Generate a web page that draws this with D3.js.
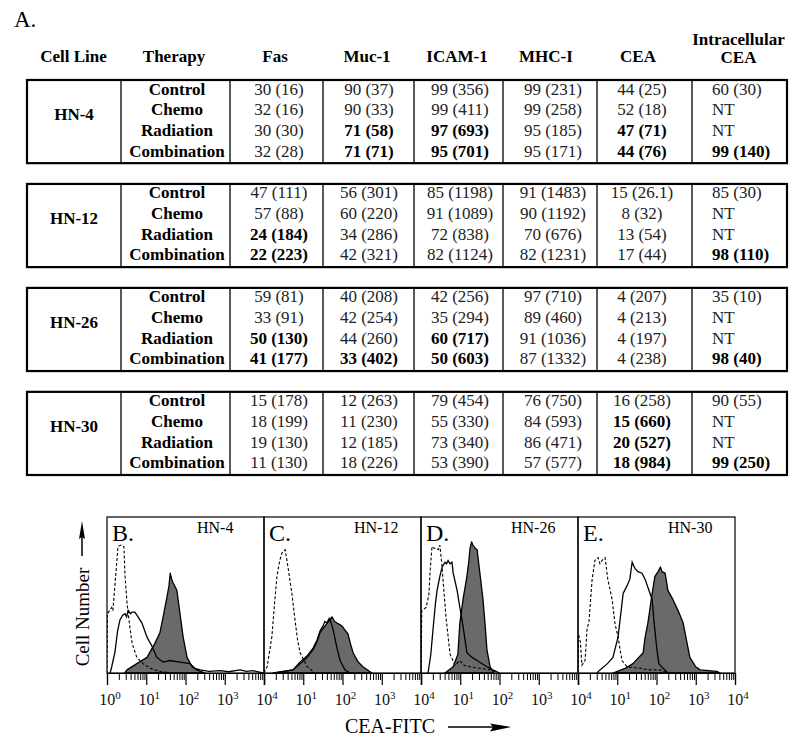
<!DOCTYPE html>
<html>
<head>
<meta charset="utf-8">
<script src="https://cdn.jsdelivr.net/npm/d3@7"></script>
<style>
html,body{margin:0;padding:0;background:#fff;}
svg{display:block;}
text{font-family:"Liberation Serif","Times New Roman",serif;}
</style>
</head>
<body>
<svg id="chart" width="800" height="748"></svg>
<script>
// ---------------- TABLE DATA ----------------
const cellLines = ["HN-4", "HN-12", "HN-26", "HN-30"];
const therapies = ["Control", "Chemo", "Radiation", "Combination"];
const headers = ["Cell Line", "Therapy", "Fas", "Muc-1", "ICAM-1", "MHC-I", "CEA", "Intracellular CEA"];

const fas   = ["30 (16)","32 (16)","30 (30)","32 (28)", "47 (111)","57 (88)","24 (184)","22 (223)", "59 (81)","33 (91)","50 (130)","41 (177)", "15 (178)","18 (199)","19 (130)","11 (130)"];
const muc1  = ["90 (37)","90 (33)","71 (58)","71 (71)", "56 (301)","60 (220)","34 (286)","42 (321)", "40 (208)","42 (254)","44 (260)","33 (402)", "12 (263)","11 (230)","12 (185)","18 (226)"];
const icam1 = ["99 (356)","99 (411)","97 (693)","95 (701)", "85 (1198)","91 (1089)","72 (838)","82 (1124)", "42 (256)","35 (294)","60 (717)","50 (603)", "79 (454)","55 (330)","73 (340)","53 (390)"];
const mhc1  = ["99 (231)","99 (258)","95 (185)","95 (171)", "91 (1483)","90 (1192)","70 (676)","82 (1231)", "97 (710)","89 (460)","91 (1036)","87 (1332)", "76 (750)","84 (593)","86 (471)","57 (577)"];
const cea   = ["44 (25)","52 (18)","47 (71)","44 (76)", "15 (26.1)","8 (32)","13 (54)","17 (44)", "4 (207)","4 (213)","4 (197)","4 (238)", "16 (258)","15 (660)","20 (527)","18 (984)"];
const intraCea = ["60 (30)","NT","NT","99 (140)", "85 (30)","NT","NT","98 (110)", "35 (10)","NT","NT","98 (40)", "90 (55)","NT","NT","99 (250)"];

const boldFas   = [0,0,0,0, 0,0,1,1, 0,0,1,1, 0,0,0,0];
const boldMuc1  = [0,0,1,1, 0,0,0,0, 0,0,0,1, 0,0,0,0];
const boldIcam1 = [0,0,1,1, 0,0,0,0, 0,0,1,1, 0,0,0,0];
const boldMhc1  = [0,0,0,0, 0,0,0,0, 0,0,0,0, 0,0,0,0];
const boldCea   = [0,0,1,1, 0,0,0,0, 0,0,0,0, 0,1,1,1];
const boldIntra = [0,0,0,1, 0,0,0,1, 0,0,0,1, 0,0,0,1];

// ---------------- HISTOGRAM DATA ([log10 channel, % of max]) ----------------
const panelLabels = ["B.", "C.", "D.", "E."];
const panelLines = ["HN-4", "HN-12", "HN-26", "HN-30"];
const axisTickLabels = ["0", "1", "2", "3", "4"];

const hn4Iso   = [[0,0],[0.01,38],[0.12,42],[0.15,40],[0.22,62],[0.28,81],[0.36,82],[0.43,81],[0.46,62],[0.51,45],[0.58,30],[0.64,19],[0.76,10],[0.92,6],[1.1,3],[1.35,1],[1.6,0]];
const hn4Ctrl  = [[0.08,0],[0.12,4],[0.2,13],[0.27,27],[0.33,34],[0.4,37],[0.46,38],[0.5,36],[0.54,40],[0.6,38],[0.64,39],[0.71,39],[0.79,36],[0.89,32],[1.02,23],[1.15,17],[1.27,10],[1.43,7],[1.6,8],[1.86,7],[2.11,6],[2.24,3],[2.37,2],[2.6,1],[2.88,1.5],[3.1,0.8],[3.39,2],[3.55,1],[3.72,1.5],[3.97,0]];
const hn4Treat = [[0.45,0],[0.51,2],[0.76,6],[1.02,10],[1.22,19],[1.35,26],[1.43,36],[1.53,49],[1.58,56],[1.61,64],[1.65,60],[1.68,58],[1.78,53],[1.86,38],[1.94,23],[2.04,10],[2.17,4],[2.29,2],[2.5,0]];

const hn12Iso   = [[0,0],[0.08,4],[0.2,23],[0.27,45],[0.33,62],[0.4,72],[0.46,77],[0.54,79],[0.61,68],[0.71,51],[0.79,34],[0.85,22],[0.92,13],[1.1,4],[1.3,0]];
const hn12Ctrl  = [[0.28,0],[0.5,1],[0.74,2],[0.92,7],[1.1,11],[1.25,16],[1.35,21],[1.43,27],[1.5,30],[1.55,33],[1.6,32],[1.66,35],[1.7,33],[1.76,28],[1.86,16],[1.94,8],[2.06,2],[2.19,0]];
const hn12Treat = [[0.23,0],[0.5,1],[0.74,2],[0.92,6],[1.1,10],[1.25,15],[1.35,20],[1.43,26],[1.52,29],[1.61,32],[1.68,34],[1.73,36],[1.8,33],[1.86,32],[1.93,31],[1.99,30],[2.05,28],[2.14,25],[2.2,19],[2.27,13],[2.4,7],[2.52,4],[2.75,0]];

const hn26Iso   = [[0,0],[0.02,40],[0.13,42],[0.2,50],[0.23,64],[0.28,81],[0.33,80],[0.38,80],[0.44,79],[0.48,82],[0.53,70],[0.56,60],[0.64,35],[0.74,12],[0.87,5],[0.99,8],[1.1,5],[1.25,4],[1.5,3],[1.76,2],[2.0,0]];
const hn26Ctrl  = [[0.18,0],[0.25,12],[0.31,29],[0.37,45],[0.41,53],[0.48,62],[0.54,68],[0.61,71],[0.65,70],[0.69,72],[0.74,70],[0.79,71],[0.82,64],[0.92,53],[0.99,42],[1.07,30],[1.17,13],[1.3,10],[1.43,8],[1.68,4],[1.83,2],[2.0,0]];
const hn26Treat = [[0.61,0],[0.82,4],[0.94,12],[0.99,32],[1.07,47],[1.17,62],[1.22,72],[1.25,80],[1.29,84],[1.32,82],[1.38,80],[1.43,79],[1.5,64],[1.58,47],[1.63,32],[1.68,15],[1.76,4],[1.86,0]];

const hn30Iso   = [[0,0],[0.01,25],[0.06,20],[0.1,5],[0.18,8],[0.23,28],[0.28,33],[0.36,60],[0.43,72],[0.51,74],[0.56,70],[0.61,72],[0.69,74],[0.76,60],[0.87,47],[0.94,32],[1.02,23],[1.12,8],[1.25,4],[1.58,3],[1.8,2],[2.09,2],[2.27,0]];
const hn30Ctrl  = [[0.48,0],[0.56,2],[0.75,6],[0.89,10],[1.02,23],[1.1,40],[1.15,51],[1.25,56],[1.32,60],[1.38,71],[1.45,67],[1.53,65],[1.63,64],[1.71,60],[1.78,55],[1.89,47],[1.94,32],[2.01,15],[2.06,6],[2.17,3],[2.29,0]];
const hn30Treat = [[0.89,0],[1.2,3],[1.4,6],[1.66,13],[1.71,23],[1.78,32],[1.89,51],[1.96,62],[2.04,65],[2.1,68],[2.14,65],[2.22,64],[2.29,53],[2.42,47],[2.55,40],[2.68,32],[2.78,19],[2.85,10],[3.0,4],[3.11,2],[3.54,1],[3.62,0]];

// ---------------- DRAW ----------------
const svg = d3.select("#chart");
svg.append("rect").attr("width", 800).attr("height", 748).attr("fill", "#fff");

const FS = 17;
svg.append("text").attr("x", 14).attr("y", 27).attr("font-size", 23).text("A.");

// table layout
const colEdges = [27, 121, 230, 323, 414, 503, 597, 692, 787];
const headerX = [73.5, 174, 275, 367, 457, 546, 638, 738.5];
const valueX = [279, 369, 460, 553, 642];
const intraX = 712;

headers.forEach((h, i) => {
  if (h === "Intracellular CEA") {
    const t = svg.append("text").attr("x", headerX[i]).attr("text-anchor", "middle")
      .attr("font-weight", "bold").attr("font-size", FS);
    t.append("tspan").attr("x", headerX[i]).attr("y", 45).text("Intracellular");
    t.append("tspan").attr("x", headerX[i]).attr("y", 63).text("CEA");
  } else {
    svg.append("text").attr("x", headerX[i]).attr("y", 62).attr("text-anchor", "middle")
      .attr("font-weight", "bold").attr("font-size", FS).text(h);
  }
});

const boxY = d3.scaleBand().domain(cellLines).range([80, 475]).paddingInner(0.2).paddingOuter(0);
const rowY = d3.scaleLinear().domain([0, 3]).range([14.5, 76.5]);

const valueCols = [[fas, boldFas], [muc1, boldMuc1], [icam1, boldIcam1], [mhc1, boldMhc1], [cea, boldCea]];

cellLines.forEach((cl, ci) => {
  const top = boxY(cl), bh = boxY.bandwidth();
  const g = svg.append("g");
  colEdges.slice(1, -1).forEach(x => {
    g.append("line").attr("x1", x).attr("x2", x).attr("y1", top).attr("y2", top + bh)
      .attr("stroke", "#000").attr("stroke-width", 1.3);
  });
  g.append("rect").attr("x", colEdges[0]).attr("y", top)
    .attr("width", colEdges[colEdges.length - 1] - colEdges[0]).attr("height", bh)
    .attr("fill", "none").attr("stroke", "#000").attr("stroke-width", 2.2);
  g.append("text").attr("x", 74).attr("y", top + 40).attr("text-anchor", "middle")
    .attr("font-weight", "bold").attr("font-size", FS).text(cl);
  therapies.forEach((th, ri) => {
    const y = top + rowY(ri);
    g.append("text").attr("x", 177).attr("y", y).attr("text-anchor", "middle")
      .attr("font-weight", "bold").attr("font-size", FS).text(th);
    const idx = ci * 4 + ri;
    valueCols.forEach(([vals, bolds], k) => {
      g.append("text").attr("x", valueX[k]).attr("y", y).attr("text-anchor", "middle")
        .attr("font-size", FS)
        .attr("font-weight", bolds[idx] ? "bold" : "normal")
        .attr("fill", bolds[idx] ? "#000" : "#222")
        .text(vals[idx]);
    });
    g.append("text").attr("x", intraX).attr("y", y).attr("text-anchor", "start")
      .attr("font-size", FS)
      .attr("font-weight", boldIntra[idx] ? "bold" : "normal")
      .attr("fill", boldIntra[idx] ? "#000" : "#222")
      .text(intraCea[idx]);
  });
});

// ---------------- HISTOGRAMS ----------------
const panelData = [
  [hn4Iso, hn4Ctrl, hn4Treat],
  [hn12Iso, hn12Ctrl, hn12Treat],
  [hn26Iso, hn26Ctrl, hn26Treat],
  [hn30Iso, hn30Ctrl, hn30Treat]
];
const panelX = d3.scaleBand().domain(d3.range(4)).range([107, 735]).padding(0);
const pTop = 517, pBot = 673;
const y = d3.scaleLinear().domain([0, 100]).range([pBot, pTop]);

panelData.forEach(([iso, ctrl, treat], i) => {
  const left = panelX(i), pw = panelX.bandwidth();
  const x = d3.scaleLog().domain([1, 10000]).range([left, left + pw]);
  const g = svg.append("g");
  const clipId = "clip" + i;
  svg.append("clipPath").attr("id", clipId).append("rect")
    .attr("x", left).attr("y", pTop).attr("width", pw).attr("height", pBot - pTop);

  const cg = g.append("g").attr("clip-path", `url(#${clipId})`);
  const area = d3.area().x(d => x(Math.pow(10, d[0]))).y0(pBot).y1(d => y(d[1]));
  const line = d3.line().x(d => x(Math.pow(10, d[0]))).y(d => y(d[1]));

  cg.append("path").datum(treat).attr("d", area).attr("fill", "#6a6a6a")
    .attr("stroke", "#000").attr("stroke-width", 1.3).attr("stroke-linejoin", "round");
  cg.append("path").datum(ctrl).attr("d", line).attr("fill", "none")
    .attr("stroke", "#000").attr("stroke-width", 1.3);
  cg.append("path").datum(iso).attr("d", line).attr("fill", "none")
    .attr("stroke", "#000").attr("stroke-width", 1.1).attr("stroke-dasharray", "3,2");

  g.append("rect").attr("x", left).attr("y", pTop).attr("width", pw).attr("height", pBot - pTop)
    .attr("fill", "none").attr("stroke", "#000").attr("stroke-width", 1.2);

  const allTicks = x.ticks();
  const majors = [1, 10, 100, 1000, 10000];
  const minors = allTicks.filter(t => !majors.includes(t));
  g.append("g").attr("transform", `translate(0,${pBot})`)
    .call(d3.axisBottom(x).tickValues(minors).tickSize(7).tickFormat(""))
    .call(a => a.select(".domain").remove())
    .call(a => a.selectAll("line").attr("stroke", "#000").attr("stroke-width", 1));
  g.append("g").attr("transform", `translate(0,${pBot})`)
    .call(d3.axisBottom(x).tickValues(majors).tickSize(12).tickFormat(""))
    .call(a => a.select(".domain").attr("stroke", "#000").attr("stroke-width", 1.2))
    .call(a => a.selectAll("line").attr("stroke", "#000").attr("stroke-width", 1.2));

  majors.forEach((v, k) => {
    if (k === 0 && i !== 0) return;
    const t = g.append("text").attr("x", x(v) + 3).attr("y", 705).attr("text-anchor", "middle")
      .attr("font-size", 16).attr("fill", "#111");
    t.append("tspan").text("10");
    t.append("tspan").attr("font-size", 11).attr("dy", -6).text(axisTickLabels[k]);
  });

  g.append("text").attr("x", left + 5).attr("y", 541).attr("font-size", 24).text(panelLabels[i]);
  g.append("text").attr("x", left + 90).attr("y", 533).attr("font-size", 16).text(panelLines[i]);
});

// y axis label with arrow
svg.append("text").attr("transform", "translate(89,617) rotate(-90)").attr("text-anchor", "middle")
  .attr("font-size", 19).text("Cell Number");
svg.append("line").attr("x1", 82).attr("x2", 82).attr("y1", 556).attr("y2", 530)
  .attr("stroke", "#000").attr("stroke-width", 1.5);
svg.append("path").attr("d", "M82,521 L85,539 L82,537 L79,539 Z").attr("fill", "#000");

// x axis label with arrow
svg.append("text").attr("x", 390).attr("y", 733).attr("text-anchor", "middle")
  .attr("font-size", 20).text("CEA-FITC");
svg.append("line").attr("x1", 448).attr("x2", 500).attr("y1", 727).attr("y2", 727)
  .attr("stroke", "#000").attr("stroke-width", 1.5);
svg.append("path").attr("d", "M511,727 L490,723.5 L493,727 L490,731.5 Z").attr("fill", "#000");
</script>
</body>
</html>
